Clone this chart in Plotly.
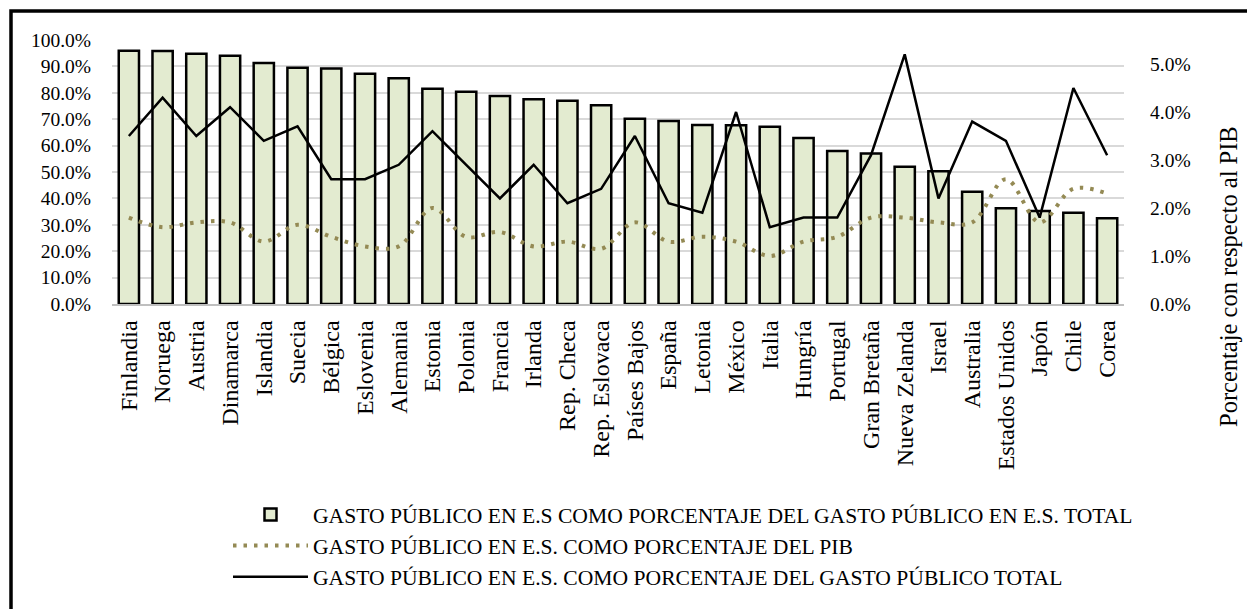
import plotly.graph_objects as go

countries = ["Finlandia", "Noruega", "Austria", "Dinamarca", "Islandia", "Suecia", "Bélgica",
             "Eslovenia", "Alemania", "Estonia", "Polonia", "Francia", "Irlanda", "Rep. Checa",
             "Rep. Eslovaca", "Países Bajos", "España", "Letonia", "México", "Italia", "Hungría",
             "Portugal", "Gran Bretaña", "Nueva Zelanda", "Israel", "Australia", "Estados Unidos",
             "Japón", "Chile", "Corea"]

# Gasto público en E.S. como % del gasto público en E.S. total (eje izquierdo)
gasto_es_total = [0.959, 0.958, 0.948, 0.940, 0.913, 0.895, 0.892, 0.872, 0.855, 0.815,
                  0.804, 0.788, 0.776, 0.770, 0.753, 0.702, 0.693, 0.678, 0.677, 0.671,
                  0.629, 0.580, 0.570, 0.520, 0.503, 0.425, 0.363, 0.352, 0.346, 0.325]

# Gasto público en E.S. como % del PIB (eje derecho)
gasto_pib = [0.018, 0.016, 0.017, 0.017, 0.013, 0.0165, 0.014, 0.012, 0.012, 0.020,
             0.014, 0.015, 0.012, 0.013, 0.0115, 0.017, 0.013, 0.014, 0.013, 0.010,
             0.013, 0.014, 0.018, 0.018, 0.017, 0.017, 0.026, 0.017, 0.024, 0.023]

# Gasto público en E.S. como % del gasto público total (eje derecho)
gasto_publico_total = [0.035, 0.043, 0.035, 0.041, 0.034, 0.037, 0.026, 0.026, 0.029, 0.036,
                       0.029, 0.022, 0.029, 0.021, 0.024, 0.035, 0.021, 0.019, 0.040, 0.016,
                       0.018, 0.018, 0.031, 0.052, 0.022, 0.038, 0.034, 0.018, 0.045, 0.031]

names = ["GASTO PÚBLICO EN E.S COMO PORCENTAJE DEL GASTO PÚBLICO EN E.S. TOTAL",
         "GASTO PÚBLICO EN E.S. COMO PORCENTAJE DEL PIB",
         "GASTO PÚBLICO EN E.S. COMO PORCENTAJE DEL GASTO PÚBLICO TOTAL"]
right_title = "Porcentaje con respecto al PIB"

FONT = "Liberation Serif, Times New Roman, serif"
W, H = 1255, 609
OFF = 8  # page body margin
FW, FH = W - OFF, H - OFF
ML, MT, PW, PH = 104, 32, 1012, 264
MR, MB = FW - ML - PW, FH - MT - PH


def px_x(s):
    return (s - OFF - ML) / PW


def px_y(s):
    return (MT + PH - (s - OFF)) / PH


fig = go.Figure()
fig.add_trace(go.Bar(
    x=countries, y=gasto_es_total, name=names[0],
    marker=dict(color="#E3EBD0", line=dict(color="black", width=2.5)),
    yaxis="y",
))
fig.add_trace(go.Scatter(
    x=countries, y=gasto_pib, name=names[1], mode="lines",
    line=dict(color="#948A54", width=4, dash="3.5px,7px", shape="spline", smoothing=1),
    yaxis="y2",
))
fig.add_trace(go.Scatter(
    x=countries, y=gasto_publico_total, name=names[2], mode="lines",
    line=dict(color="black", width=2.5),
    yaxis="y2",
))

fig.update_layout(
    width=FW, height=FH,
    margin=dict(l=ML, r=MR, t=MT, b=MB, autoexpand=False),
    paper_bgcolor="white", plot_bgcolor="white",
    font=dict(family=FONT, color="black", size=19),
    bargap=0.4,
    showlegend=True,
    legend=dict(
        x=px_x(228), y=px_y(494), xanchor="left", yanchor="top",
        orientation="v", font=dict(family=FONT, size=21.6, color="black"),
        tracegroupgap=0, itemwidth=75, bgcolor="rgba(0,0,0,0)",
    ),
    xaxis=dict(
        tickangle=-90, tickfont=dict(family=FONT, size=24, color="black"),
        showgrid=False, showline=True, linecolor="#BFBFBF", linewidth=1.5,
        ticklabelstandoff=5, fixedrange=True,
    ),
    yaxis=dict(
        range=[0, 1.0], dtick=0.1, tickformat=".1%",
        showgrid=True, gridcolor="#D9D9D9", gridwidth=1.5,
        zeroline=False, showline=False, ticklabelstandoff=20,
        tickfont=dict(family=FONT, size=19.5, color="black"),
    ),
    yaxis2=dict(
        range=[0, 0.055], dtick=0.01, tickformat=".1%",
        overlaying="y", side="right", showgrid=False, zeroline=False, showline=False,
        ticklabelstandoff=25,
        tickfont=dict(family=FONT, size=19.5, color="black"),
    ),
    annotations=[dict(
        text=right_title, xref="paper", yref="paper",
        x=px_x(1228), y=px_y(277), xanchor="center", yanchor="middle",
        textangle=-90, showarrow=False, font=dict(family=FONT, size=24.5, color="black"),
    )],
    shapes=[dict(type="rect", xref="paper", yref="paper",
                 x0=px_x(11), y0=px_y(11), x1=px_x(1275), y1=px_y(630),
                 line=dict(color="black", width=3.5), fillcolor="rgba(0,0,0,0)", layer="above")],
)

fig.write_html("out.html")
